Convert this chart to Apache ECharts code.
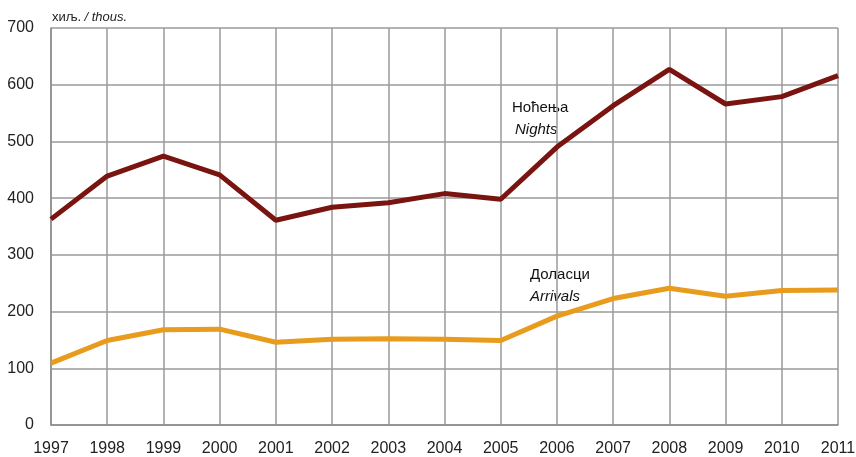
<!DOCTYPE html>
<html lang="sr">
<head>
<meta charset="UTF-8">
<title>Ноћења и доласци</title>
<script src="https://cdn.jsdelivr.net/npm/echarts@6/dist/echarts.min.js"></script>
<style>
  html, body { margin: 0; padding: 0; background: #fff; }
  #chart { width: 856px; height: 457px; }
</style>
</head>
<body>
<div id="chart"></div>
<script>
// podaci (хиљ. / thous.)
var years = ['1997', '1998', '1999', '2000', '2001', '2002', '2003', '2004', '2005', '2006', '2007', '2008', '2009', '2010', '2011'];
var nights = [363, 439, 474, 441, 361, 384, 392, 408, 398, 490, 563, 627, 566, 579, 616];
var arrivals = [109, 149, 168, 169, 146, 151, 152, 151, 149, 192, 223, 241, 227, 237, 238];

var font = 'Liberation Sans, Arial, sans-serif';
var narrow = 'Liberation Sans Narrow, Arial Narrow, sans-serif';
var chart = echarts.init(document.getElementById('chart'));

var option = {
  animation: false,
  textStyle: { fontFamily: font },
  grid: { left: 51, right: 18, top: 28, bottom: 32, outerBoundsMode: 'none' },
  xAxis: {
    type: 'category',
    data: years,
    boundaryGap: false,
    axisLine: { lineStyle: { color: '#8c8c8c', width: 1.5 } },
    axisTick: { show: false },
    axisLabel: { color: '#222', fontSize: 16, margin: 16, fontFamily: narrow },
    splitLine: { show: true, lineStyle: { color: '#9a9a9a', width: 1.5 } }
  },
  yAxis: {
    type: 'value',
    min: 0,
    max: 700,
    interval: 100,
    axisLine: { show: true, lineStyle: { color: '#8c8c8c', width: 1.5 } },
    axisTick: { show: false },
    axisLabel: { color: '#222', fontSize: 16, margin: 17, fontFamily: narrow },
    splitLine: { show: true, lineStyle: { color: '#9a9a9a', width: 1.5 } }
  },
  graphic: [
    {
      type: 'text', left: 52, top: 11,
      style: {
        text: '{a|хиљ.} {b|/ thous.}',
        rich: {
          a: { fontSize: 13, fill: '#222', fontFamily: font },
          b: { fontSize: 13, fill: '#222', fontStyle: 'italic', fontFamily: font }
        }
      }
    },
    { type: 'text', left: 512, top: 100, style: { text: 'Ноћења', fontSize: 15, fill: '#111', fontFamily: font } },
    { type: 'text', left: 515, top: 122, style: { text: 'Nights', fontSize: 15, fill: '#111', fontStyle: 'italic', fontFamily: font } },
    { type: 'text', left: 530, top: 267, style: { text: 'Доласци', fontSize: 15, fill: '#111', fontFamily: font } },
    { type: 'text', left: 530, top: 289, style: { text: 'Arrivals', fontSize: 15, fill: '#111', fontStyle: 'italic', fontFamily: font } }
  ],
  series: [
    {
      name: 'Ноћења',
      type: 'line',
      data: nights,
      symbol: 'none',
      lineStyle: { color: '#7a1410', width: 5 }
    },
    {
      name: 'Доласци',
      type: 'line',
      data: arrivals,
      symbol: 'none',
      lineStyle: { color: '#e89b1c', width: 5 }
    }
  ]
};
chart.setOption(option);
</script>
</body>
</html>
